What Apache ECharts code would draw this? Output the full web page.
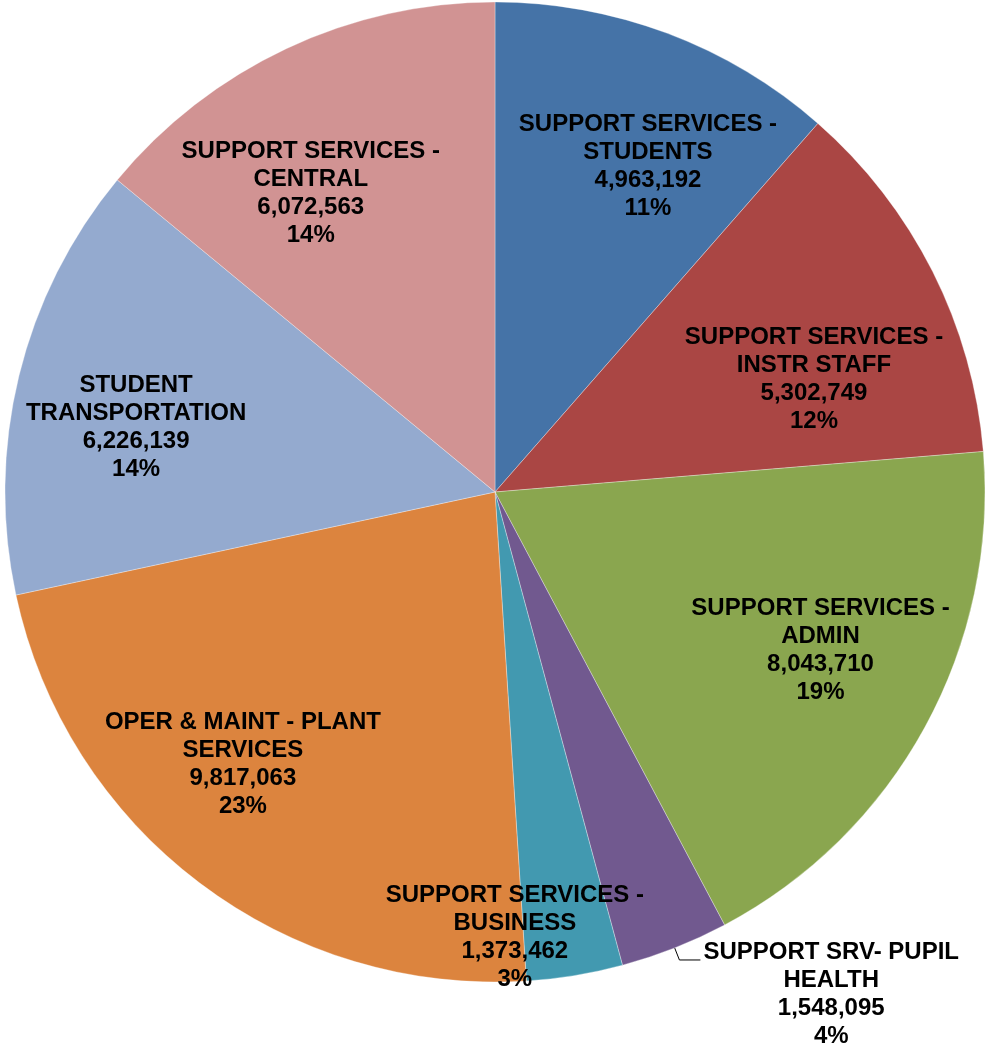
<!DOCTYPE html>
<html>
<head>
<meta charset="utf-8">
<style>
  html, body { margin: 0; padding: 0; background: #ffffff; }
  #chart { width: 988px; height: 1047px; }
</style>
<script src="https://cdn.jsdelivr.net/npm/echarts@6/dist/echarts.min.js"></script>
</head>
<body>
<div id="chart"></div>
<script>
// Expenditure categories, in clockwise order from the top
const categories = [
  'SUPPORT SERVICES -\nSTUDENTS',
  'SUPPORT SERVICES -\nINSTR STAFF',
  'SUPPORT SERVICES -\nADMIN',
  'SUPPORT SRV- PUPIL\nHEALTH',
  'SUPPORT SERVICES -\nBUSINESS',
  'OPER & MAINT - PLANT\nSERVICES',
  'STUDENT\nTRANSPORTATION',
  'SUPPORT SERVICES -\nCENTRAL'
];
const amounts = [4963192, 5302749, 8043710, 1548095, 1373462, 9817063, 6226139, 6072563];
const sliceColors = ['#4573A7', '#AA4644', '#8AA64F', '#71598F', '#4299B0', '#DC843E', '#94AACF', '#D19393'];

const total = amounts.reduce((a, b) => a + b, 0);
const fmtNum = v => v.toLocaleString('en-US');
const pct = v => Math.round(v / total * 100) + '%';

const CENTER = [495, 492];
const RADIUS = 490;
const PUPIL = 3;     // label drawn outside with a leader line

// small nudges for the inside labels, [dx, dy] in px, per slice
const labelNudge = [[28, 7], [2, 47], [14, -12], [0, 0], [-38, 95], [-38, -11], [-14, 20], [-33, 23]];

const labelFont = {
  fontFamily: 'Liberation Sans, Arial, sans-serif',
  fontWeight: 'bold',
  fontSize: 24,
  lineHeight: 28,
  color: '#000000'
};

const sliceData = categories.map((name, i) => ({
  name, value: amounts[i], itemStyle: { color: sliceColors[i] }
}));

function labelText(p) {
  return p.name + '\n' + fmtNum(p.value) + '\n' + pct(p.value);
}

const chart = echarts.init(document.getElementById('chart'), null, { renderer: 'canvas' });

chart.setOption({
  animation: false,
  backgroundColor: '#ffffff',
  series: [
    {
      // the visible slices; only the small pupil-health slice carries an outside label
      type: 'pie',
      center: CENTER,
      radius: [0, RADIUS],
      startAngle: 90,
      clockwise: true,
      avoidLabelOverlap: false,
      silent: true,
      itemStyle: { borderColor: 'rgba(255,255,255,0.45)', borderWidth: 0.7 },
      label: { show: false },
      labelLine: { show: false },
      emphasis: { disabled: true },
      data: sliceData.map((d, i) => i === PUPIL ? Object.assign({}, d, {
        label: {
          show: true,
          position: 'outside',
          alignTo: 'none',
          distanceToLabelLine: 3,
          padding: [68, 0, 0, 0],
          formatter: p => p.name.split('\n').concat([fmtNum(p.value), pct(p.value)])
            .map(s => '{c|' + s + '}').join('\n'),
          rich: { c: Object.assign({ align: 'center' }, labelFont) }
        },
        labelLine: {
          show: true,
          length: 13,
          length2: 21,
          smooth: false,
          lineStyle: { color: '#000000', width: 1 }
        }
      }) : d)
    },
    {
      // transparent companion ring that positions the inside labels further out
      type: 'pie',
      center: CENTER,
      radius: [0, 704],
      startAngle: 90,
      clockwise: true,
      avoidLabelOverlap: false,
      silent: true,
      itemStyle: { color: 'rgba(0,0,0,0)', borderWidth: 0 },
      emphasis: { disabled: true },
      label: Object.assign({
        show: true,
        position: 'inside',
        formatter: labelText
      }, labelFont),
      labelLine: { show: false },
      labelLayout: p => ({ dx: labelNudge[p.dataIndex][0], dy: labelNudge[p.dataIndex][1] }),
      data: sliceData.map((d, i) => ({
        name: d.name,
        value: d.value,
        label: { show: i !== PUPIL }
      }))
    }
  ]
});
</script>
</body>
</html>
